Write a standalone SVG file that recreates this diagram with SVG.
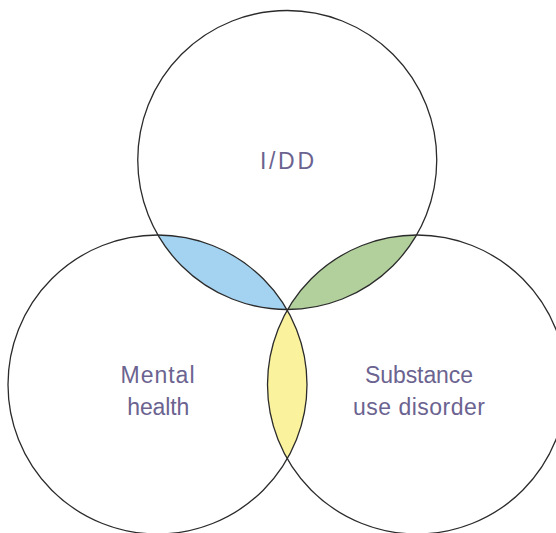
<svg xmlns="http://www.w3.org/2000/svg" width="556" height="533" viewBox="0 0 556 533">
<style>
.ring{fill:none;stroke:#2b2b2b;stroke-width:1.3}
.lbl{font-family:"Liberation Sans","DejaVu Sans",sans-serif;font-size:23px;fill:#6b6390;text-anchor:middle}
</style>
<defs>
<clipPath id="clipTop"><circle cx="287.25" cy="160" r="149.5"/></clipPath>
<clipPath id="clipLeft"><circle cx="157.5" cy="384.5" r="149.5"/></clipPath>
</defs>
<rect width="556" height="533" fill="#ffffff"/>
<g id="overlaps">
<circle cx="157.5" cy="384.5" r="149.5" fill="#a3d3f1" clip-path="url(#clipTop)"/>
<circle cx="417" cy="384.5" r="149.5" fill="#b2d09c" clip-path="url(#clipTop)"/>
<circle cx="417" cy="384.5" r="149.5" fill="#faf29c" clip-path="url(#clipLeft)"/>
</g>
<g id="idd">
<circle class="ring" cx="287.25" cy="160" r="149.5"/>
<text class="lbl" x="287" y="169" textLength="54" lengthAdjust="spacing">I/DD</text>
</g>
<g id="mental-health">
<circle class="ring" cx="157.5" cy="384.5" r="149.5"/>
<text class="lbl" x="157.5" y="383" textLength="74" lengthAdjust="spacing">Mental</text>
<text class="lbl" x="158.3" y="415" textLength="62" lengthAdjust="spacing">health</text>
</g>
<g id="substance-use-disorder">
<circle class="ring" cx="417" cy="384.5" r="149.5"/>
<text class="lbl" x="419" y="383" textLength="108" lengthAdjust="spacing">Substance</text>
<text class="lbl" x="419" y="415" textLength="132" lengthAdjust="spacing">use disorder</text>
</g>
<g id="connectors"/>
</svg>
